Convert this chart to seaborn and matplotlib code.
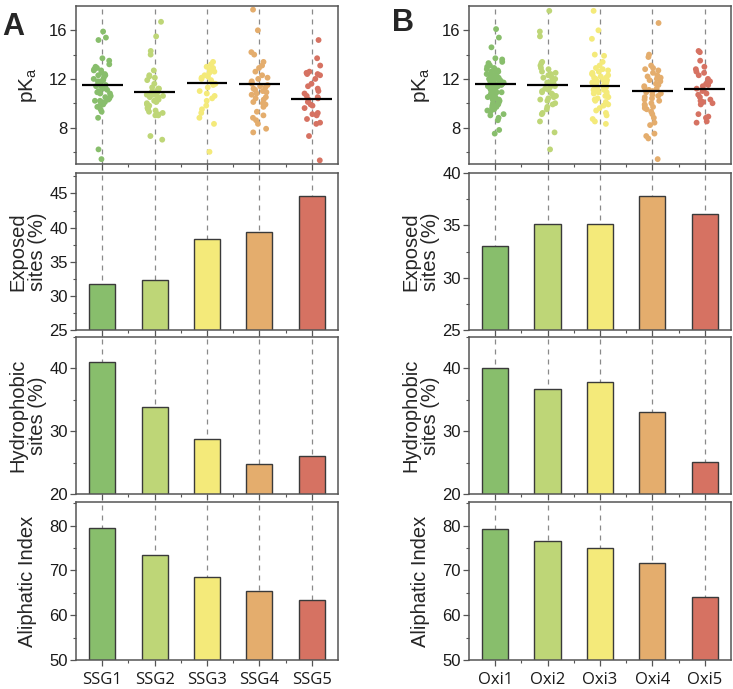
import numpy as np
import pandas as pd
import matplotlib
matplotlib.use('Agg')
import matplotlib.pyplot as plt
import seaborn as sns
from matplotlib.ticker import MultipleLocator, FixedLocator

sns.set_style('ticks')
plt.rcParams['font.family'] = ['Liberation Sans', 'DejaVu Sans']
plt.rcParams['mathtext.default'] = 'regular'

# group labels and colours
ssg_labels = ['SSG1', 'SSG2', 'SSG3', 'SSG4', 'SSG5']
oxi_labels = ['Oxi1', 'Oxi2', 'Oxi3', 'Oxi4', 'Oxi5']
colors = ['#88BE6C', '#BED677', '#F4EA7A', '#E4AD6D', '#D67262']

# pKa values
ssg1_pka = [15.9, 15.4, 15.2, 13.7, 13.5, 13.2, 13.0, 12.9, 12.8, 12.7, 12.7, 12.5, 12.4, 12.3,
            12.3, 12.1, 12.0, 11.9, 11.8, 11.8, 11.6, 11.5, 11.4, 11.4, 11.2, 11.1, 11.0, 10.9,
            10.8, 10.8, 10.6, 10.5, 10.4, 10.3, 10.2, 10.2, 10.1, 9.9, 9.8, 9.7, 9.5, 9.3, 8.8,
            6.2, 5.4]
ssg2_pka = [16.7, 15.5, 14.3, 14.0, 12.7, 12.3, 12.2, 12.1, 11.9, 11.6, 11.3, 11.2, 11.2, 11.1,
            11.0, 11.0, 10.9, 10.9, 10.8, 10.8, 10.7, 10.7, 10.6, 10.6, 10.5, 10.5, 10.4, 10.3,
            10.2, 10.1, 10.0, 9.9, 9.8, 9.7, 9.6, 9.5, 9.4, 9.3, 9.2, 9.1, 9.0, 9.0, 7.3, 7.0]
ssg3_pka = [13.4, 13.2, 13.0, 12.9, 12.8, 12.7, 12.6, 12.5, 12.3, 12.2, 12.1, 12.0, 11.9, 11.7,
            11.6, 11.5, 11.3, 11.0, 10.8, 10.6, 10.4, 10.2, 9.8, 9.5, 9.2, 8.8, 8.3, 6.0]
ssg4_pka = [17.7, 16.0, 14.2, 14.0, 13.4, 13.1, 12.9, 12.6, 12.3, 12.1, 12.0, 11.8, 11.7, 11.6,
            11.5, 11.4, 11.3, 11.2, 11.1, 11.0, 10.9, 10.8, 10.7, 10.5, 10.4, 10.3, 10.1, 10.0,
            9.9, 9.7, 9.3, 9.0, 8.8, 8.6, 8.3, 7.9, 7.6]
ssg5_pka = [15.2, 13.7, 13.1, 12.6, 12.5, 12.4, 12.4, 12.3, 12.0, 11.6, 11.4, 11.2, 11.0, 10.8,
            10.6, 10.5, 10.4, 10.3, 10.1, 9.9, 9.8, 9.6, 9.2, 9.1, 9.0, 8.7, 8.4, 8.3, 7.3, 5.3]

oxi1_pka = [16.1, 15.4, 14.6, 13.7, 13.6, 13.4, 13.3, 13.1, 13.0, 12.9, 12.8, 12.8, 12.7, 12.6,
            12.6, 12.5, 12.4, 12.4, 12.3, 12.3, 12.2, 12.1, 12.1, 12.0, 12.0, 11.9, 11.9, 11.8,
            11.8, 11.7, 11.7, 11.6, 11.6, 11.5, 11.5, 11.4, 11.4, 11.3, 11.3, 11.2, 11.2, 11.1,
            11.1, 11.0, 11.0, 10.9, 10.9, 10.8, 10.8, 10.7, 10.6, 10.6, 10.5, 10.5, 10.4, 10.3,
            10.3, 10.2, 10.1, 10.0, 10.0, 9.9, 9.8, 9.7, 9.6, 9.5, 9.4, 9.3, 9.1, 9.0, 8.8, 8.6,
            7.8, 7.5]
oxi2_pka = [17.6, 15.9, 15.5, 13.4, 13.3, 13.1, 12.9, 12.8, 12.6, 12.5, 12.4, 12.3, 12.2, 12.1,
            12.0, 11.9, 11.8, 11.7, 11.6, 11.5, 11.5, 11.4, 11.3, 11.2, 11.1, 11.0, 10.9, 10.8,
            10.7, 10.6, 10.5, 10.4, 10.3, 10.2, 10.0, 9.9, 9.7, 9.5, 9.2, 9.1, 8.5, 7.6, 6.2]
oxi3_pka = [17.6, 16.0, 15.3, 14.0, 13.9, 13.4, 13.1, 12.9, 12.8, 12.7, 12.6, 12.5, 12.4, 12.4,
            12.3, 12.2, 12.1, 12.1, 12.0, 11.9, 11.9, 11.8, 11.7, 11.7, 11.6, 11.5, 11.5, 11.4,
            11.3, 11.3, 11.2, 11.1, 11.1, 11.0, 10.9, 10.9, 10.8, 10.7, 10.6, 10.5, 10.4, 10.3,
            10.2, 10.1, 9.9, 9.8, 9.6, 9.4, 9.2, 9.0, 8.7, 8.5, 8.3]
oxi4_pka = [16.6, 14.0, 13.8, 13.1, 12.9, 12.8, 12.7, 12.5, 12.3, 12.2, 12.1, 12.0, 11.9, 11.8,
            11.6, 11.5, 11.4, 11.3, 11.2, 11.1, 11.0, 10.9, 10.8, 10.7, 10.6, 10.5, 10.4, 10.3,
            10.2, 10.0, 9.9, 9.8, 9.7, 9.6, 9.5, 9.3, 9.1, 8.8, 8.4, 8.2, 7.5, 7.3, 7.1, 5.4]
oxi5_pka = [14.3, 14.2, 13.5, 13.0, 12.8, 12.6, 12.5, 12.3, 12.0, 11.8, 11.6, 11.5, 11.4, 11.2,
            11.1, 11.0, 10.8, 10.7, 10.5, 10.3, 10.2, 10.1, 10.0, 9.9, 9.1, 8.9, 8.8, 8.5, 8.4]

# mean lines in the pKa panels
ssg_pka_mean = [11.5, 10.9, 11.67, 11.6, 10.38]
oxi_pka_mean = [11.57, 11.52, 11.38, 11.0, 11.2]

# bar values
ssg_exposed = [31.7, 32.4, 38.3, 39.3, 44.7]
oxi_exposed = [33.0, 35.15, 35.15, 37.85, 36.1]
ssg_hydrophobic = [41.0, 33.9, 28.8, 24.7, 26.1]
oxi_hydrophobic = [40.0, 36.7, 37.9, 33.1, 25.1]
ssg_aliphatic = [79.4, 73.5, 68.5, 65.4, 63.4]
oxi_aliphatic = [79.3, 76.6, 75.0, 71.6, 64.1]

fig = plt.figure(figsize=(7.33, 6.89), dpi=100)

rows = [(0.762, 0.2293), (0.521, 0.2279), (0.283, 0.2279), (0.0421, 0.2293)]
cols = [0.1037, 0.6398]
width = 0.3574

spine_col = '#555555'


def style_axis(ax, labels, show_x):
    ax.set_xlim(-0.5, 4.5)
    ax.xaxis.set_major_locator(FixedLocator(range(5)))
    ax.xaxis.set_minor_locator(FixedLocator([0.5, 1.5, 2.5, 3.5]))
    ax.grid(axis='x', which='major', linestyle=(0, (4, 4)), color='#8a8a8a', linewidth=0.9)
    ax.set_axisbelow(True)
    for s in ax.spines.values():
        s.set_visible(True)
        s.set_color(spine_col)
        s.set_linewidth(1.1)
    ax.tick_params(axis='both', which='major', direction='out', length=4, width=0.9,
                   color=spine_col, labelsize=12, labelcolor='#1a1a1a', pad=2)
    ax.tick_params(axis='both', which='minor', direction='out', length=2.5, width=0.8,
                   color=spine_col)
    ax.tick_params(axis='x', labelbottom=show_x, pad=5)
    ax.set_xlabel('')
    if show_x:
        ax.set_xticklabels(labels, fontsize=12, fontfamily='Open Sans')


def strip_panel(ax, labels, groups, means):
    df = pd.DataFrame({
        'group': np.concatenate([[lab] * len(g) for lab, g in zip(labels, groups)]),
        'pka': np.concatenate(groups),
    })
    np.random.seed(3)
    sns.stripplot(data=df, x='group', y='pka', hue='group', order=labels, hue_order=labels,
                  palette=colors, jitter=0.17, size=4.2, linewidth=0, legend=False, ax=ax,
                  zorder=2)
    ax.hlines(means, np.arange(5) - 0.39, np.arange(5) + 0.39, color='black', lw=1.6, zorder=3)
    ax.set_ylim(5, 18)
    ax.yaxis.set_major_locator(FixedLocator([8, 12, 16]))
    ax.yaxis.set_minor_locator(FixedLocator([6, 10, 14]))
    ax.set_ylabel('pK$_a$', fontsize=15, va='center')


def bar_panel(ax, labels, values, ylim, major, minor, ylabel):
    sns.barplot(x=labels, y=values, hue=labels, order=labels, hue_order=labels,
                palette=colors, width=0.5, edgecolor='#3a3a3a', linewidth=1.0,
                errorbar=None, legend=False, ax=ax, saturation=1)
    ax.set_ylim(*ylim)
    ax.yaxis.set_major_locator(MultipleLocator(major))
    ax.yaxis.set_minor_locator(MultipleLocator(minor))
    ax.set_ylabel(ylabel, fontsize=14.5, va='center', linespacing=1.0)


panels = [
    (ssg_labels,
     [ssg1_pka, ssg2_pka, ssg3_pka, ssg4_pka, ssg5_pka], ssg_pka_mean,
     [(ssg_exposed, (25, 48), 5, 2.5), (ssg_hydrophobic, (20, 45), 10, 5),
      (ssg_aliphatic, (50, 85.3), 10, 5)]),
    (oxi_labels,
     [oxi1_pka, oxi2_pka, oxi3_pka, oxi4_pka, oxi5_pka], oxi_pka_mean,
     [(oxi_exposed, (25, 40), 5, 2.5), (oxi_hydrophobic, (20, 45), 10, 5),
      (oxi_aliphatic, (50, 85.3), 10, 5)]),
]
bar_labels = ['Exposed\nsites (%)', 'Hydrophobic\nsites (%)', 'Aliphatic Index']

for c, (labels, groups, means, bars) in enumerate(panels):
    left = cols[c]
    ax = fig.add_axes([left, rows[0][0], width, rows[0][1]])
    strip_panel(ax, labels, groups, means)
    style_axis(ax, labels, False)
    ax.yaxis.set_label_coords(-0.185, 0.5)
    for r, (vals, ylim, major, minor) in enumerate(bars):
        ax = fig.add_axes([left, rows[r + 1][0], width, rows[r + 1][1]])
        bar_panel(ax, labels, vals, ylim, major, minor, bar_labels[r])
        style_axis(ax, labels, r == 2)
        ax.yaxis.set_label_coords(-0.185, 0.5)

fig.text(0.003, 0.982, 'A', fontsize=22, fontweight='bold', va='top', ha='left')
fig.text(0.535, 0.988, 'B', fontsize=22, fontweight='bold', va='top', ha='left')

fig.savefig('out.png', dpi=100)
